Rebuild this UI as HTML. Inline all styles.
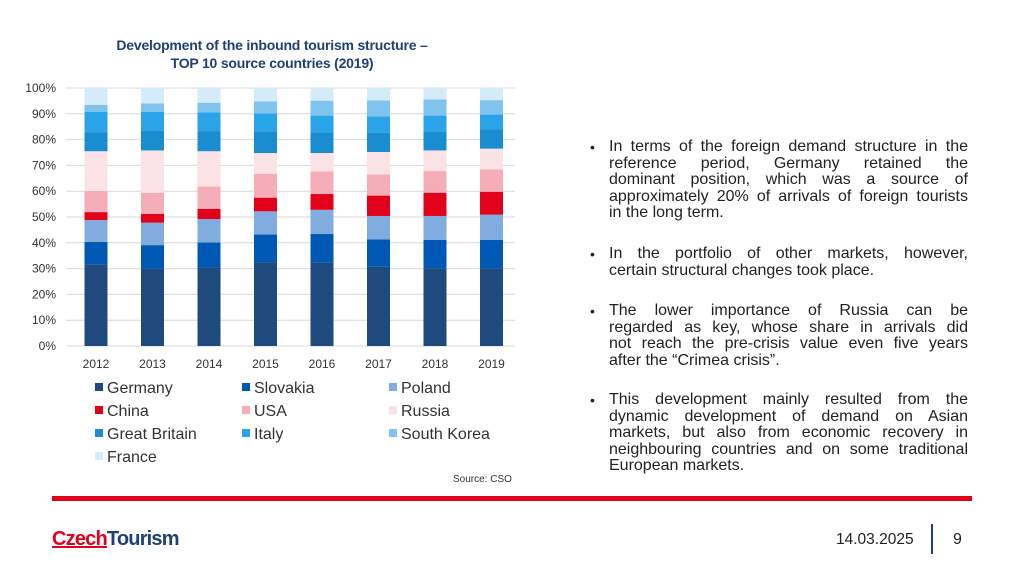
<!DOCTYPE html>
<html><head><meta charset="utf-8">
<style>
body{margin:0;width:1024px;height:576px;background:#fff;font-family:"Liberation Sans",sans-serif;position:relative;overflow:hidden}
.abs{position:absolute}
.b{position:absolute;left:590px;width:378px;font-size:16px;line-height:16.5px;color:#222}
.b:before{content:"•";position:absolute;left:0;top:0;font-size:14px}
.b div{margin-left:19px;text-align:justify;text-align-last:justify;white-space:nowrap}
.b div.l{text-align-last:left}
</style></head><body>
<div class="abs" style="left:60px;top:36px;width:424px;text-align:center;font-weight:bold;font-size:14px;line-height:18px;color:#1f3f77;letter-spacing:-0.2px">Development of the inbound tourism structure –<br>TOP 10 source countries (2019)</div>
<svg id="ch" class="abs" style="left:0;top:0" width="530" height="500"></svg>
<div class="abs" style="left:453px;top:474px;font-size:10px;color:#333">Source: CSO</div>
<div class="b" style="top:139px">
<div>In terms of the foreign demand structure in the</div><div>reference period, Germany retained the</div><div>dominant position, which was a source of</div><div>approximately 20% of arrivals of foreign tourists</div><div class="l">in the long term.</div></div>
<div class="b" style="top:246px">
<div>In the portfolio of other markets, however,</div><div class="l">certain structural changes took place.</div></div>
<div class="b" style="top:303px">
<div>The lower importance of Russia can be</div><div>regarded as key, whose share in arrivals did</div><div>not reach the pre-crisis value even five years</div><div class="l">after the “Crimea crisis”.</div></div>
<div class="b" style="top:392px">
<div>This development mainly resulted from the</div><div>dynamic development of demand on Asian</div><div>markets, but also from economic recovery in</div><div>neighbouring countries and on some traditional</div><div class="l">European markets.</div></div>
<div class="abs" style="left:52px;top:496px;width:920px;height:5px;background:#e2001a"></div>
<div class="abs" style="left:52px;top:528px;font-size:20px;font-weight:bold;letter-spacing:-0.8px"><span style="color:#e2001a;text-decoration:underline;text-decoration-thickness:2px">Czech</span><span style="color:#1f3f77">Tourism</span></div>
<div class="abs" style="left:836px;top:531px;font-size:15.5px;color:#222">14.03.2025</div>
<div class="abs" style="left:931px;top:524px;width:2px;height:30px;background:#1f3f77"></div>
<div class="abs" style="left:953px;top:531px;font-size:16px;color:#222">9</div>
<script>
const years=["2012","2013","2014","2015","2016","2017","2018","2019"];
const seriesNames=["Germany","Slovakia","Poland","China","USA","Russia","Great Britain","Italy","South Korea","France"];
const germany=[31.7,30.1,30.4,32.4,32.3,30.7,30.1,30.1];
const slovakia=[8.6,9.0,9.7,10.8,11.1,10.6,11.0,11.0];
const poland=[8.5,8.7,9.1,9.0,9.4,9.1,9.3,9.8];
const china=[3.1,3.4,4.0,5.3,6.1,7.9,9.0,8.9];
const usa=[8.2,8.2,8.6,9.3,8.8,8.2,8.4,8.7];
const russia=[15.4,16.4,13.7,8.0,7.1,8.7,8.0,8.0];
const greatBritain=[7.4,7.8,7.8,8.4,8.0,7.5,7.3,7.4];
const italy=[7.8,7.1,7.3,6.9,6.5,6.3,6.2,5.8];
const southKorea=[2.8,3.3,3.7,4.7,5.8,6.2,6.3,5.6];
const france=[6.5,6.0,5.7,5.2,4.9,4.8,4.4,4.7];
const yTicks=[0,10,20,30,40,50,60,70,80,90,100];
const colors=["#1f4a7e","#0058b5","#80ace0","#e2001a","#f5aeb8","#fbe2e6","#1a8dd1","#2aa4e8","#80c3ee","#d4ebf9"];
const series=[germany,slovakia,poland,china,usa,russia,greatBritain,italy,southKorea,france];
const svg=document.getElementById('ch');const NS="http://www.w3.org/2000/svg";
const x0=66,x1=515,yB=346,yT=88;
const y=v=>yB-(v/100)*(yB-yT);
const xc=i=>x0+30+i*56.5;
function mk(t,a){const e=document.createElementNS(NS,t);for(const k in a)e.setAttribute(k,a[k]);svg.appendChild(e);return e;}
yTicks.forEach(t=>{
 const l=mk('line',{x1:x0,x2:x1,y1:y(t),y2:y(t),stroke:'#d9d9d9','stroke-width':1});
 
 
 const tx=mk('text',{x:56,y:y(t)+4,'text-anchor':'end','font-size':12,fill:'#333'});tx.textContent=t+'%';
 
 
});
years.forEach((yr,i)=>{
 let tot=series.reduce((s,a)=>s+a[i],0),cum=0;
 series.forEach((a,k)=>{
  const v=a[i]/tot*100;
  const r=mk('rect',{x:xc(i)-11.5,width:23,y:y(cum+v),height:y(cum)-y(cum+v),fill:colors[k]});
  
  
  cum+=v;
 });
 const tx=mk('text',{x:xc(i),y:368,'text-anchor':'middle','font-size':12,fill:'#333'});tx.textContent=yr;
 
 
});
seriesNames.forEach((n,k)=>{
 const col=k%3,row=Math.floor(k/3);const lx=95+col*147,ly=388+row*23;
 const r=mk('rect',{x:lx,y:ly-5,width:8,height:8,fill:colors[k]});
 
 
 const t=mk('text',{x:lx+12,y:ly+5,'font-size':16,fill:'#333'});t.textContent=n;
 
 
});
</script>
</body></html>
